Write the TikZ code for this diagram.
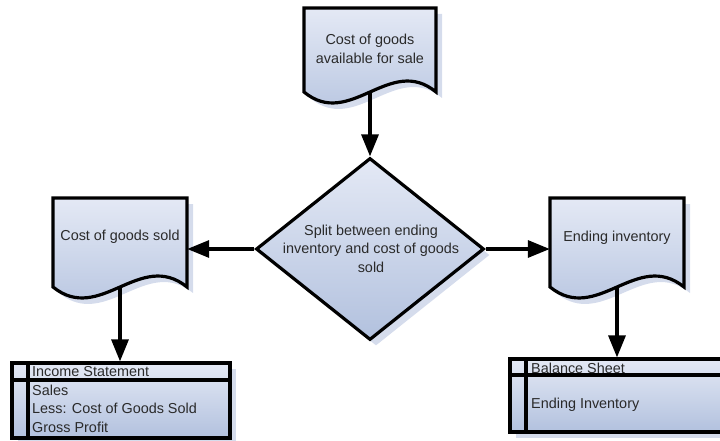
\documentclass[tikz,border=0pt]{standalone}
\usepackage{fontspec}
\setmainfont{Liberation Sans}
\usetikzlibrary{arrows.meta,shapes.geometric,shadows}
\definecolor{fillA}{HTML}{E4E9F5}
\definecolor{fillB}{HTML}{B2C1DE}
\definecolor{shad}{HTML}{D5DCEC}
\definecolor{txtc}{HTML}{2A2A2A}
\begin{document}
\begin{tikzpicture}[x=1pt,y=-1pt,
  shp/.style={draw=black, line width=3.2pt, line join=miter, top color=fillA, bottom color=fillB,
    drop shadow={shadow xshift=6pt, shadow yshift=-6pt, fill=shad, opacity=1}},
  anch/.style={draw=none, inner sep=0pt, minimum width=#1},
  lbl/.style={text=txtc, font=\fontsize{14.4pt}{18.5pt}\selectfont, inner sep=0pt, align=center},
  arr/.style={line width=3.2pt, -{Triangle[length=22pt,width=17pt]}},
  rule/.style={line width=3.2pt}
]
\useasboundingbox (0,0) rectangle (720,441);
% top document
\path[shp] (304,8) -- (436,8) -- (436,92) .. controls (390,54) and (350,130) .. (304,92) -- cycle;
\node[anch=132pt, minimum height=84pt] (cgas) at (370,50) {};
\node[lbl] (cgast) at (370,49) {Cost of goods\\available for sale};
% left document
\path[shp] (53,198) -- (187,198) -- (187,287) .. controls (140,249) and (100,325) .. (53,287) -- cycle;
\node[anch=134pt, minimum height=89pt] (cgs) at (120,242.5) {};
\node[lbl] (cgst) at (120,237) {Cost of goods sold};
% right document
\path[shp] (550,198) -- (684,198) -- (684,287) .. controls (637,249) and (597,325) .. (550,287) -- cycle;
\node[anch=134pt, minimum height=89pt] (ei) at (617,242.5) {};
\node[lbl] (eit) at (617,238) {Ending inventory};
% diamond
\node[shp, diamond, minimum width=228pt, minimum height=182pt, inner sep=0pt] (dia) at (370,249) {};
\node[lbl] (diat) at (371,248.5) {Split between ending\\inventory and cost of goods\\sold};
% income statement table
\node[shp, rectangle, minimum width=218pt, minimum height=75pt, inner sep=0pt] (is) at (121,400.5) {};
\draw[rule] (12,380) -- (230,380);
\draw[rule] (28,363) -- (28,438);
\node[lbl, anchor=west] (ish) at (32,372) {Income Statement};
\node[lbl, anchor=west] (is1) at (32,390) {Sales};
\node[lbl, anchor=west] (is2) at (32,408.5) {Less: Cost of Goods Sold};
\node[lbl, anchor=west] (is3) at (32,427) {Gross Profit};
% balance sheet table
\node[shp, rectangle, minimum width=216pt, minimum height=73pt, inner sep=0pt] (bs) at (618,395.5) {};
\draw[rule] (510,375) -- (726,375);
\draw[rule] (526,359) -- (526,432);
\node[lbl, anchor=west] (bsh) at (531,368.5) {Balance Sheet};
\node[lbl, anchor=west] (bs1) at (531,405) {Ending Inventory};
% connectors
\draw[arr] (cgas.south) -- (cgas.south |- dia.north);
\draw[arr] (dia.west) -- (dia.west -| cgs.east);
\draw[arr] (dia.east) -- (dia.east -| ei.west);
\draw[arr] (cgs.south) -- (cgs.south |- is.north);
\draw[arr] (ei.south) -- (ei.south |- bs.north);
\end{tikzpicture}
\end{document}
